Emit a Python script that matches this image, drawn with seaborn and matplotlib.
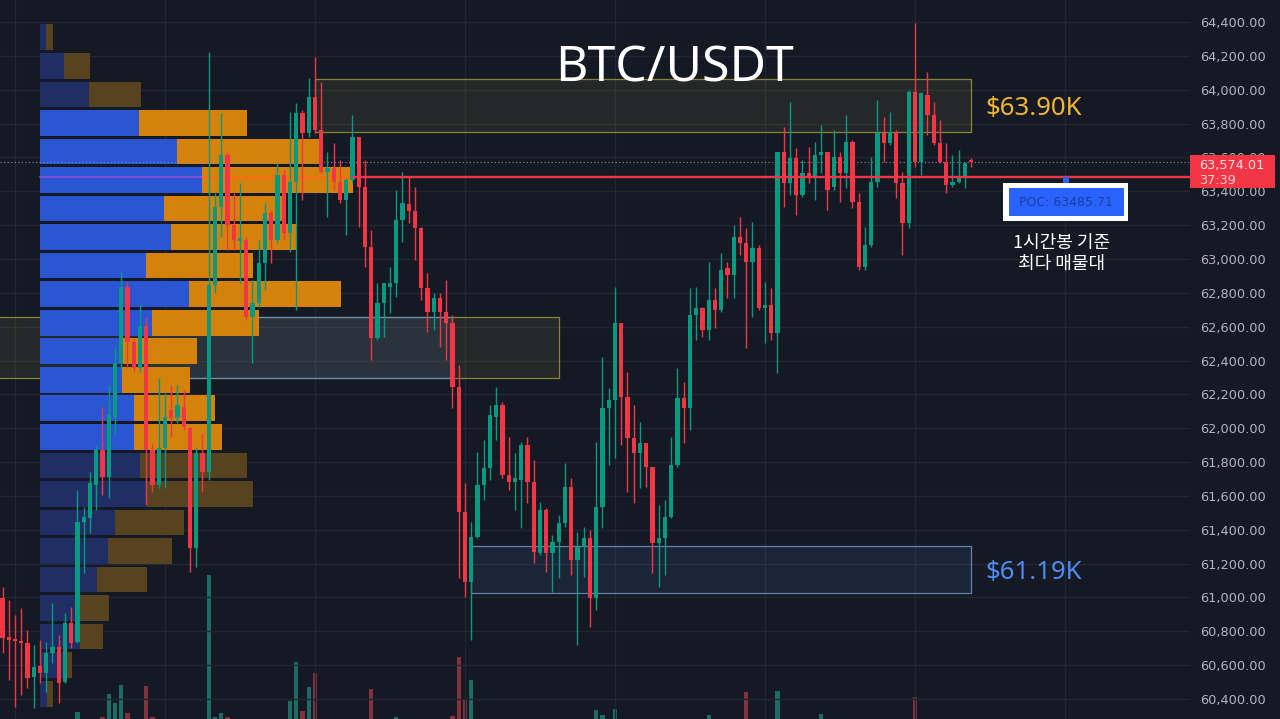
import numpy as np
import pandas as pd
import matplotlib
matplotlib.use("Agg")
import matplotlib.pyplot as plt
from matplotlib import transforms as mtrans
from matplotlib.patches import Rectangle
import seaborn as sns

# BTC/USDT 1h candles
opens = [60997, 60767, 60749, 60743, 60731, 60530, 60595, 60554, 60672, 60708, 60501, 60849,
         60737, 61446, 61470, 61665, 61871, 61712, 62066, 62385, 62834, 62509, 62356, 62604,
         61871, 61665, 61883, 62108, 62061, 62125, 62001, 61292, 61854, 61741, 62846, 63307,
         63614, 63201, 63106, 63112, 62657, 62740, 62976, 63272, 63112, 63496, 63153, 63455,
         63862, 63744, 63957, 63762, 63514, 63537, 63455, 63348, 63467, 63721, 63425, 63071,
         62533, 62740, 62834, 62858, 63230, 63325, 63283, 63183, 62829, 62687, 62769, 62687,
         62622, 62244, 61505, 61092, 61357, 61665, 61765, 62066, 62137, 61724, 61682, 61694,
         61901, 61682, 61263, 61517, 61263, 61328, 61440, 61653, 61222, 61298, 61352, 60997,
         61535, 62120, 62167, 62622, 62185, 61942, 61854, 61913, 61771, 61322, 61352, 61476,
         61783, 62179, 62120, 62669, 62710, 62580, 62758, 62699, 62947, 62905, 63130, 63094,
         62982, 63065, 62710, 62728, 62563, 63632, 63449, 63597, 63378, 63508, 63484, 63614,
         63632, 63425, 63602, 63508, 63691, 63337, 62953, 63083, 63455, 63744, 63685, 63750,
         63449, 63212, 63986, 63573, 63969, 63851, 63685, 63573, 63437, 63455, 63484, 63580]
highs = [61062, 60985, 60897, 60938, 60808, 60719, 60749, 60737, 60967, 60778, 60908, 60944,
         61635, 61535, 61741, 61901, 62125, 62255, 62480, 62923, 62864, 62533, 62728, 62657,
         61913, 62297, 62208, 62255, 62255, 62226, 62007, 61889, 61972, 64223, 63390, 63862,
         63632, 63390, 63449, 63130, 62876, 63112, 63331, 63289, 63567, 63526, 63868, 63921,
         63880, 64069, 64193, 64046, 63632, 63685, 63585, 63478, 63851, 63721, 63585, 63171,
         62858, 62858, 62953, 63407, 63514, 63484, 63425, 63189, 62917, 62799, 62799, 62876,
         62669, 62374, 61676, 61446, 61860, 61930, 62137, 62244, 62155, 61948, 61854, 61919,
         61948, 61812, 61564, 61529, 61369, 61487, 61795, 61706, 61387, 61416, 61399, 61919,
         62421, 62238, 62834, 62622, 62332, 62137, 62037, 61913, 61771, 61546, 61576, 61948,
         62356, 62273, 62829, 62834, 62716, 62982, 62829, 63035, 62982, 63201, 63248, 63183,
         63218, 63083, 62864, 62829, 63632, 63780, 63927, 63656, 63585, 63662, 63691, 63791,
         63632, 63762, 63632, 63851, 63703, 63390, 63189, 63602, 63939, 63839, 63868, 63762,
         63514, 63998, 64394, 63986, 64105, 63927, 63821, 63685, 63614, 63644, 63567, 63597]
lows = [60672, 60513, 60353, 60424, 60465, 60347, 60495, 60442, 60613, 60377, 60495, 60702,
        60731, 61145, 61381, 61517, 61606, 61588, 61960, 62344, 62356, 62332, 62332, 61546,
        61623, 61647, 61647, 61948, 62031, 61990, 61151, 61180, 61623, 61694, 62799, 63130,
        63053, 63053, 62858, 62639, 62385, 62716, 62817, 62976, 63094, 63112, 63041, 62699,
        63348, 63721, 63744, 63508, 63248, 63407, 63331, 63142, 63449, 63189, 62953, 62403,
        62521, 62539, 62681, 62775, 63100, 63212, 62994, 62758, 62569, 62580, 62480, 62403,
        62120, 61115, 61003, 60749, 61352, 61576, 61694, 61930, 61706, 61635, 61517, 61411,
        61558, 61204, 61251, 61151, 61032, 61115, 61416, 61133, 60719, 61121, 60826, 60926,
        61411, 61783, 61824, 61901, 61623, 61558, 61647, 61653, 61145, 61062, 61133, 61470,
        61771, 61913, 61990, 62521, 62539, 62521, 62592, 62687, 62769, 62769, 63024, 62474,
        62657, 62699, 62504, 62521, 62326, 63307, 63378, 63260, 63366, 63449, 63348, 63508,
        63289, 63407, 63337, 63419, 63301, 62935, 62935, 63071, 63425, 63573, 63673, 63360,
        63024, 63183, 63543, 63496, 63732, 63673, 63567, 63390, 63425, 63449, 63419, 63543]
closes = [60761, 60749, 60743, 60731, 60524, 60589, 60554, 60672, 60708, 60495, 60849, 60731,
          61446, 61476, 61676, 61871, 61712, 62078, 62385, 62834, 62509, 62356, 62604, 61871,
          61665, 61883, 62066, 62061, 62137, 62007, 61292, 61854, 61741, 62846, 63307, 63614,
          63201, 63112, 63124, 62657, 62740, 62976, 63272, 63112, 63496, 63153, 63455, 63862,
          63744, 63957, 63762, 63514, 63537, 63455, 63348, 63467, 63721, 63425, 63071, 62533,
          62740, 62858, 62858, 63230, 63331, 63283, 63183, 62829, 62687, 62769, 62687, 62622,
          62244, 61505, 61092, 61357, 61665, 61765, 62078, 62137, 61724, 61682, 61706, 61901,
          61682, 61269, 61517, 61263, 61328, 61440, 61653, 61222, 61298, 61352, 60997, 61535,
          62120, 62167, 62622, 62185, 61942, 61854, 61913, 61771, 61322, 61352, 61476, 61783,
          62179, 62120, 62669, 62710, 62580, 62758, 62699, 62935, 62905, 63130, 63094, 62982,
          63065, 62710, 62728, 62563, 63632, 63449, 63597, 63378, 63508, 63478, 63614, 63632,
          63407, 63602, 63508, 63691, 63337, 62953, 63083, 63455, 63744, 63685, 63750, 63449,
          63212, 63986, 63573, 63981, 63851, 63685, 63573, 63437, 63455, 63484, 63567, 63574.01]
volumes = [0, 0, 0, 0, 0, 0, 0, 0, 0, 0, 0, 0,
           70, 0, 0, 0, 20, 250, 160, 340, 60, 0, 0, 330,
           20, 0, 0, 0, 0, 0, 0, 0, 0, 1440, 20, 60,
           20, 0, 0, 0, 0, 0, 0, 0, 0, 0, 180, 570,
           80, 320, 460, 0, 0, 0, 0, 0, 0, 0, 0, 300,
           0, 0, 0, 20, 0, 0, 0, 0, 0, 0, 0, 0,
           30, 620, 200, 390, 0, 0, 0, 0, 0, 0, 0, 0,
           0, 0, 0, 0, 0, 0, 0, 0, 0, 0, 0, 90,
           40, 0, 100, 0, 0, 0, 0, 0, 0, 0, 0, 0,
           0, 0, 0, 0, 0, 40, 0, 0, 0, 0, 0, 270,
           0, 0, 0, 0, 280, 0, 0, 0, 0, 0, 0, 50,
           0, 0, 0, 0, 0, 0, 0, 0, 0, 0, 0, 0,
           0, 0, 220, 0, 0, 0, 0, 0, 0, 0, 0, 0]

# visible range volume profile, rows bottom -> top
prof_up = [7, 27, 40, 40, 57, 68, 75, 107, 100, 94, 94, 82, 83, 112, 149, 106, 131, 124, 162, 137, 99, 49, 24, 6]
prof_dn = [6, 5, 23, 29, 50, 64, 69, 106, 107, 88, 81, 68, 74, 107, 152, 107, 126, 119, 151, 143, 108, 52, 26, 7]
poc_price = 63485.71
timer = "37:39"

# drawn zones: candle index span + price span
zone_left = [50, -1, 23, 75]
zone_right = [155, 89, 72, 155]
zone_low = [63750, 62297, 62297, 61027]
zone_high = [64063, 62657, 62657, 61304]
zone_kind = ["sell", "sell", "buy", "buy"]
zone_labels = {0: "$63.90K", 3: "$61.19K"}

BG = "#151924"
GRID = "#222633"
GREEN = "#089981"
RED = "#f23645"

sns.set_theme(style="dark", rc={"axes.facecolor": BG, "figure.facecolor": BG})
plt.rcParams["font.family"] = ["DejaVu Sans", "Noto Sans CJK KR"]

o, h, l, c = (np.array(a, dtype=float) for a in (opens, highs, lows, closes))
n = len(o)
idx = np.arange(n)
rising = c >= o
cols = np.where(rising, GREEN, RED)

W, H = 1280, 719
fig = plt.figure(figsize=(W / 100, H / 100), dpi=100, facecolor=BG)
ax = fig.add_axes([0, 0, 1190 / W, 1])
axv = ax.twinx()
ax.set_zorder(axv.get_zorder() + 1)
ax.patch.set_visible(False)
axv.set_facecolor(BG)

# volume bars
vol_df = pd.DataFrame({"i": idx, "vol": volumes, "side": np.where(rising, "up", "down")})
sns.barplot(data=vol_df, x="i", y="vol", hue="side", palette={"up": "#1c6c63", "down": "#83323d"},
            native_scale=True, width=0.65, saturation=1, errorbar=None, legend=False,
            linewidth=0, ax=axv)
axv.set_ylim(0, 7190)
axv.set_yticks([])
axv.set_ylabel("")
axv.set_xlabel("")
for s in axv.spines.values():
    s.set_visible(False)

# zones
for k in range(len(zone_left)):
    if zone_kind[k] == "sell":
        fc, ec = (0.72, 0.70, 0.30, 0.10), (0.58, 0.57, 0.25, 0.9)
    else:
        fc, ec = (0.30, 0.48, 0.75, 0.13), (0.42, 0.56, 0.74, 0.9)
    ax.add_patch(Rectangle((zone_left[k], zone_low[k]), zone_right[k] - zone_left[k],
                           zone_high[k] - zone_low[k], facecolor=fc, edgecolor=ec, lw=0.9, zorder=1))
for k, txt in zone_labels.items():
    tc = "#f2b632" if zone_kind[k] == "sell" else "#4e8ef2"
    ax.text(zone_right[k] + 2.2, (zone_low[k] + zone_high[k]) / 2, txt, color=tc, fontsize=18.5,
            family="Noto Sans", ha="left", va="center_baseline", zorder=6)

# volume profile (value area 70% around POC)
edges = np.linspace(l.min(), h.max(), len(prof_up) + 1)
binh = edges[1] - edges[0]
pu, pd_ = np.array(prof_up, float), np.array(prof_dn, float)
tot = pu + pd_
poc_row = int(np.argmax(tot))
lo = hi = poc_row
acc = tot[poc_row]
while acc < 0.7 * tot.sum():
    above = tot[hi + 1] if hi + 1 < len(tot) else -1
    below = tot[lo - 1] if lo - 1 >= 0 else -1
    if above >= below:
        hi += 1
        acc += above
    else:
        lo -= 1
        acc += below
tr = mtrans.blended_transform_factory(ax.transAxes, ax.transData)
px0, pw = 40 / 1190, 313 / 1190
scale = pw / tot.max()
for r in range(len(tot)):
    inside = lo <= r <= hi
    cb = "#2a56d4" if inside else "#1f2f66"
    co = "#d4820c" if inside else "#57431f"
    yb = edges[r] + binh * 0.05
    ax.add_patch(Rectangle((px0, yb), pu[r] * scale, binh * 0.9, facecolor=cb, lw=0, transform=tr, zorder=1.5))
    ax.add_patch(Rectangle((px0 + pu[r] * scale, yb), pd_[r] * scale, binh * 0.9, facecolor=co, lw=0,
                           transform=tr, zorder=1.5))

# POC line
x_split = px0 + pu[poc_row] * scale
x_end = px0 + tot[poc_row] * scale
ax.plot([px0, x_split], [poc_price, poc_price], color="#7c4ed6", lw=1.4, transform=tr, zorder=2)
ax.plot([x_split, x_end], [poc_price, poc_price], color="#ff6a10", lw=1.4, transform=tr, zorder=2)
ax.plot([x_end, 1], [poc_price, poc_price], color=RED, lw=1.7, transform=tr, zorder=5)

# last price line
ax.axhline(c[-1], color="#8d909a", lw=0.8, ls=(0, (1, 2.2)), zorder=2)

# candles
body_lo = np.minimum(o, c)
body_h = np.maximum(np.abs(c - o), 9)
ax.vlines(idx, l, h, colors=cols, lw=1.0, zorder=3)
ax.bar(idx, body_h, bottom=body_lo, width=0.65, color=cols, lw=0, zorder=4)

# axes styling
ax.set_xlim(-0.4, 190)
ax.set_ylim(60282, 64530)
yt = np.arange(60400, 64401, 200)
ax.set_yticks(yt)
ax.set_yticklabels([f"{v:,.2f}" for v in yt])
ax.yaxis.tick_right()
ax.tick_params(axis="y", length=0, pad=7, labelcolor="#b2b5be", labelsize=9.3)
ax.set_xticks(np.arange(2, 190, 24))
ax.tick_params(axis="x", length=0, labelbottom=False)
ax.set_axisbelow(True)
ax.grid(True, color=GRID, lw=1)
for s in ax.spines.values():
    s.set_visible(False)


def fig_rect(x0, y0, x1, y1, **kw):
    fig.add_artist(Rectangle((x0 / W, 1 - y1 / H), (x1 - x0) / W, (y1 - y0) / H,
                             transform=fig.transFigure, **kw))


# last price tag
fig_rect(1190, 155, 1275, 188, facecolor=RED, lw=0, zorder=5)
fig.text(1199 / W, 1 - 166 / H, f"{c[-1]:,.2f}", color="#ffe4e7", fontsize=9.3, va="center", zorder=6)
fig.text(1199 / W, 1 - 181 / H, timer, color="#ffd0d5", fontsize=9.3, va="center", zorder=6)

# POC annotation
fig_rect(1063, 177, 1069, 183, facecolor="#2962ff", lw=0, zorder=5)
fig_rect(1003, 183, 1128, 221, facecolor="white", lw=0, zorder=5)
fig_rect(1009, 188, 1124, 216, facecolor="#2962ff", lw=0, zorder=6)
fig.text(1066 / W, 1 - 203 / H, f"POC: {poc_price:.2f}", color="#1c3f9c", fontsize=9,
         ha="center", va="center", zorder=7)
fig.text(1062 / W, 1 - 253 / H, "1시간봉 기준\n최다 매물대", color="white", fontsize=13,
         ha="center", va="center", linespacing=1.2, weight="medium",
         family=["Noto Sans CJK KR", "DejaVu Sans"], zorder=7)

fig.text(674 / W, 1 - 82 / H, "BTC/USDT", color="white", fontsize=36, family="Noto Sans",
         ha="center", va="baseline", zorder=7)

fig.savefig("out.png", dpi=100, facecolor=BG)
